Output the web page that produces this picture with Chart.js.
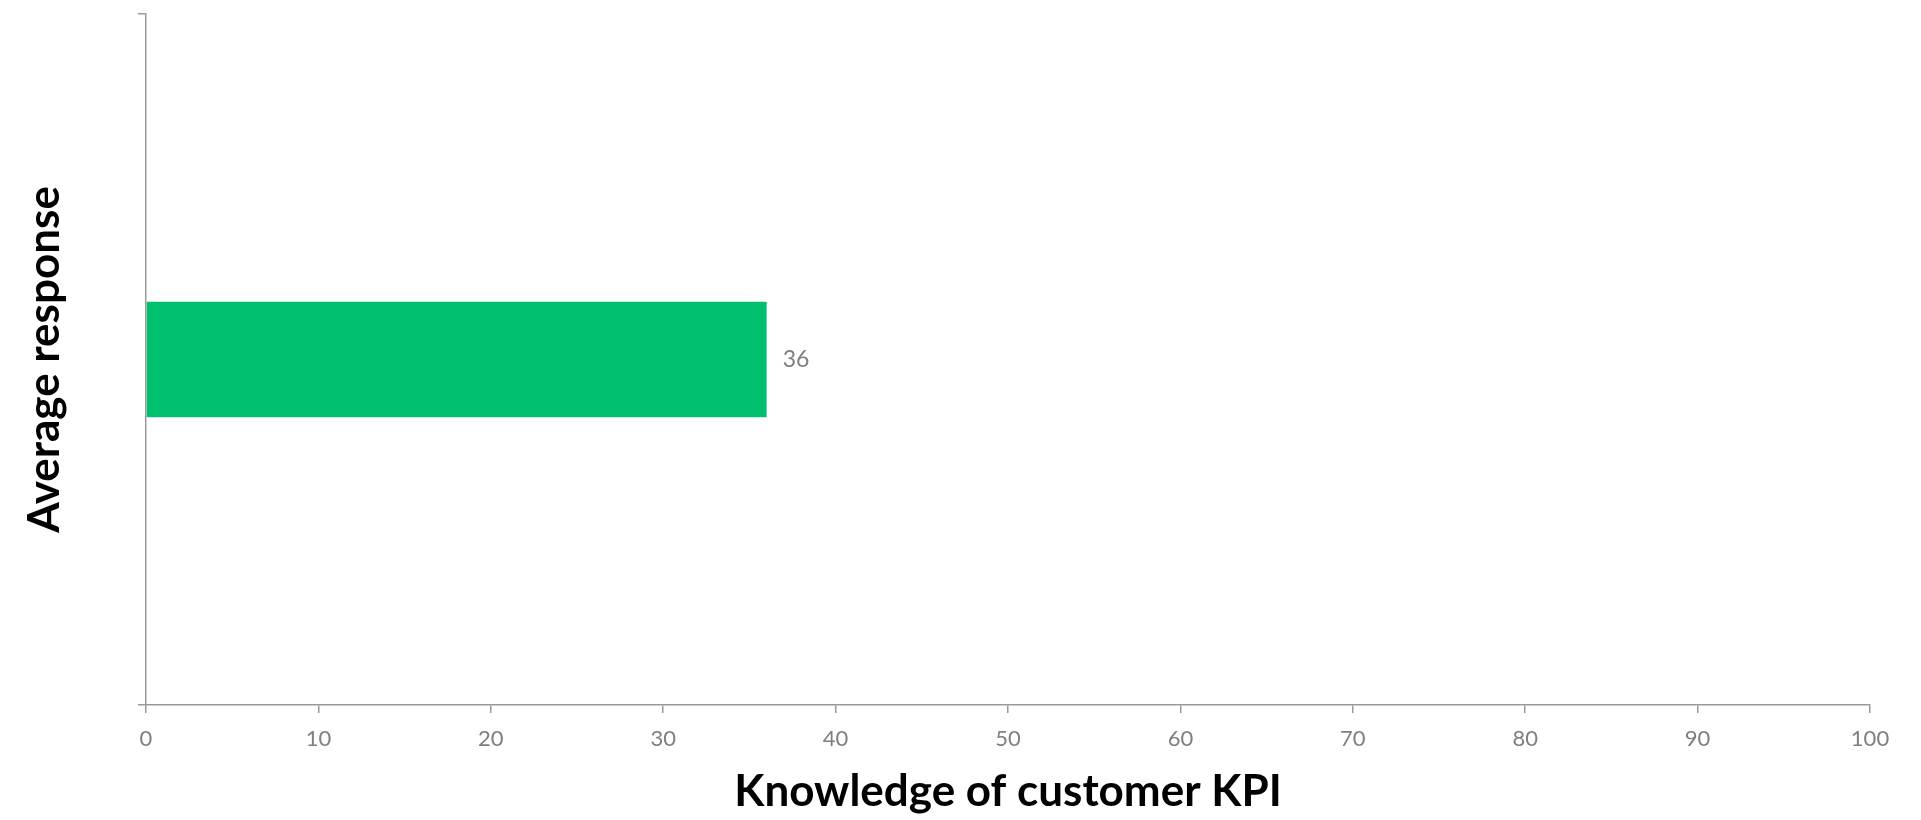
<!DOCTYPE html>
<html>
<head>
<meta charset="utf-8">
<script src="https://cdn.jsdelivr.net/npm/chart.js@4/dist/chart.umd.min.js"></script>
<style>
  html, body { margin: 0; padding: 0; background: #fff; }
  #wrap { width: 1921px; height: 820px; }
</style>
</head>
<body>
<div id="wrap"><canvas id="kpiChart"></canvas></div>
<script>
// chart data
const categories = ['Average response'];
const values = [36];
const xTicks = [0, 10, 20, 30, 40, 50, 60, 70, 80, 90, 100];

const axisGray = '#9a9a9a';
const tickGray = '#7f7f7f';

// draws the value next to the end of each bar
const barValueLabels = {
    id: 'barValueLabels',
    afterDatasetsDraw(chart) {
        const ctx = chart.ctx;
        ctx.save();
        ctx.font = '23px Lato';
        ctx.fillStyle = tickGray;
        ctx.textAlign = 'left';
        ctx.textBaseline = 'middle';
        chart.getDatasetMeta(0).data.forEach((bar, i) => {
            ctx.fillText(values[i], bar.x + 16, bar.y);
        });
        ctx.restore();
    }
};

new Chart(document.getElementById('kpiChart'), {
    type: 'bar',
    data: {
        labels: categories,
        datasets: [{
            data: values,
            backgroundColor: '#00BF6F',
            borderWidth: 0,
            categoryPercentage: 1,
            barPercentage: 0.167
        }]
    },
    options: {
        indexAxis: 'y',
        responsive: true,
        maintainAspectRatio: false,
        animation: false,
        layout: { padding: { left: 0, right: 51, top: 14, bottom: 0 } },
        plugins: {
            legend: { display: false },
            tooltip: { enabled: false }
        },
        scales: {
            x: {
                type: 'linear',
                min: 0,
                max: 100,
                afterBuildTicks: (scale) => { scale.ticks = xTicks.map(v => ({ value: v })); },
                afterFit: (scale) => { scale.height = 115; },
                grid: { drawOnChartArea: false, drawTicks: true, tickLength: 8, color: axisGray, lineWidth: 1.5 },
                border: { display: true, color: axisGray, width: 1.5 },
                ticks: { color: tickGray, font: { family: 'Lato', size: 22 }, padding: 13 },
                title: {
                    display: true,
                    text: 'Knowledge of customer KPI',
                    color: '#000',
                    font: { family: 'Lato', size: 44, weight: 'bold', lineHeight: 1.2 },
                    padding: { top: 0, bottom: 2 }
                }
            },
            y: {
                afterFit: (scale) => { scale.width = 146; },
                grid: { drawOnChartArea: false, drawTicks: true, tickLength: 8, color: axisGray, lineWidth: 1.5 },
                border: { display: true, color: axisGray, width: 1.5 },
                ticks: { display: false },
                title: {
                    display: true,
                    text: 'Average response',
                    color: '#000',
                    font: { family: 'Lato', size: 44, weight: 'bold', lineHeight: 1.2 },
                    padding: { top: 18, bottom: 0 }
                }
            }
        }
    },
    plugins: [barValueLabels]
});
</script>
</body>
</html>
